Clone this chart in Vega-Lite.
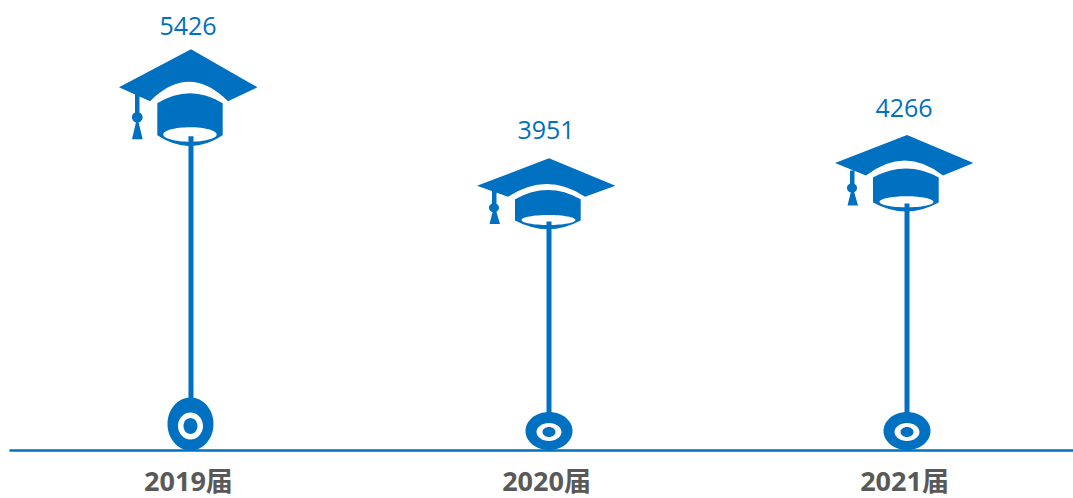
{
"$schema":"https://vega.github.io/schema/vega-lite/v6.json",
"width":1064,"height":450,"autosize":"none",
"padding":{"left":9,"top":0,"right":0,"bottom":48},
"background":"white",
"config":{"view":{"stroke":null}},
"data":{"values":[{"year":"2019届","value":5426},{"year":"2020届","value":3951},{"year":"2021届","value":4266}]},
"encoding":{"x":{"field":"year","type":"nominal","sort":null,"scale":{"type":"point","padding":0.486,"align":0.523},
"axis":{"title":null,"ticks":false,"grid":false,"labelAngle":0,"labelFontSize":27,"labelFontWeight":"bold","labelFont":"Open Sans, Noto Sans CJK SC","labelColor":"#595959","labelPadding":19,"labelOffset":-3,"domainColor":"#0070c0","domainWidth":2.5}}},
"layer":[
{"mark":{"type":"point","filled":true,"size":4,"opacity":1,"color":"#0070c0"},
"encoding":{"y":{"field":"value","type":"quantitative","scale":{"domain":[0,7785],"nice":false,"zero":false},"axis":null},
"shape":{"field":"year","type":"nominal","legend":null,"scale":{"domain":["2019届","2020届","2021届"],"range":[
"M0 -87L66.5 -49L37 -35Q-2 -74 -41 -35L-72 -49ZM-33.7 -33Q-1 -53 31.7 -33L31.7 -1Q-1 20.6 -33.7 -1ZM-27.7 -1.9A26.7 7.2 0 0 0 25.7 -1.9A26.7 7.2 0 0 0 -27.7 -1.9ZM-56 -42L-51.5 -42L-51.5 -18L-56 -18ZM-59 -19A5.3 5.3 0 0 1 -48.4 -19A5.3 5.3 0 0 1 -59 -19ZM-55 -14L-52.4 -14L-48.3 3L-59 3Z",
"M0 -63.3L66.4 -35.9L36 -24.9Q-2 -50.3 -41 -24.9L-72 -35.9ZM-34 -22.3Q-1 -40.9 31.7 -22.3L31.7 -1Q-1 16.4 -34 -1ZM-27.5 -1.6A27 5 0 0 0 26.5 -1.6A27 5 0 0 0 -27.5 -1.6ZM-57 -31L-52.5 -31L-52.5 -14L-57 -14ZM-60 -13.9A5 4.5 0 0 1 -50 -13.9A5 4.5 0 0 1 -60 -13.9ZM-56 -11L-53 -11L-49 2.4L-59.5 2.4Z",
"M0 -68.4L66.4 -40.4L36 -28Q-2 -58 -41 -28L-72 -40.4ZM-34 -26Q-1 -44 31.7 -26L31.7 -1Q-1 17 -34 -1ZM-27.5 -1.6A27 5.6 0 0 0 26.5 -1.6A27 5.6 0 0 0 -27.5 -1.6ZM-57 -33L-52.5 -33L-52.5 -15L-57 -15ZM-60 -15.4A5 4.7 0 0 1 -50 -15.4A5 4.7 0 0 1 -60 -15.4ZM-56 -12L-53 -12L-49 2L-59.5 2Z"
]}}}},
{"mark":{"type":"rule","color":"#0070c0","strokeWidth":5},
"encoding":{"y":{"field":"value","type":"quantitative","scale":{"domain":[0,7785],"nice":false,"zero":false},"axis":null},"y2":{"datum":0}}},
{"mark":{"type":"point","filled":true,"size":4,"opacity":1,"color":"#0070c0"},
"encoding":{"y":{"datum":0,"type":"quantitative","scale":{"domain":[0,7785],"nice":false,"zero":false},"axis":null},
"shape":{"field":"year","type":"nominal","legend":null,"scale":{"domain":["2019届","2020届","2021届"],"range":[
"M-23.5 -26A23 26.5 0 0 1 22.5 -26A23 26.5 0 0 1 -23.5 -26Z",
"M-23.5 -19A23.5 19 0 0 1 23.5 -19A23.5 19 0 0 1 -23.5 -19Z",
"M-23.5 -19A23.5 19 0 0 1 23.5 -19A23.5 19 0 0 1 -23.5 -19Z"
]}}}},
{"mark":{"type":"point","filled":true,"size":4,"opacity":1,"color":"white"},
"encoding":{"y":{"datum":0,"type":"quantitative","scale":{"domain":[0,7785],"nice":false,"zero":false},"axis":null},
"shape":{"field":"year","type":"nominal","legend":null,"scale":{"domain":["2019届","2020届","2021届"],"range":[
"M-13 -24A12.5 13.5 0 0 1 12 -24A12.5 13.5 0 0 1 -13 -24ZM-7.5 -24A7 8 0 0 0 6.5 -24A7 8 0 0 0 -7.5 -24Z",
"M-12.5 -18A12.5 9 0 0 1 12.5 -18A12.5 9 0 0 1 -12.5 -18ZM-6.5 -18A6.5 5 0 0 0 6.5 -18A6.5 5 0 0 0 -6.5 -18Z",
"M-12.5 -18A12.5 9 0 0 1 12.5 -18A12.5 9 0 0 1 -12.5 -18ZM-6.5 -18A6.5 5 0 0 0 6.5 -18A6.5 5 0 0 0 -6.5 -18Z"
]}}}},
{"mark":{"type":"text","color":"#0070c0","font":"Open Sans","fontSize":25,"baseline":"middle","align":"center","dx":-3},
"encoding":{"y":{"field":"value","type":"quantitative","scale":{"domain":[-573,5810],"nice":false,"zero":false},"axis":null},"text":{"field":"value","type":"nominal"}}}
],
"resolve":{"scale":{"y":"independent","shape":"independent"}}
}
